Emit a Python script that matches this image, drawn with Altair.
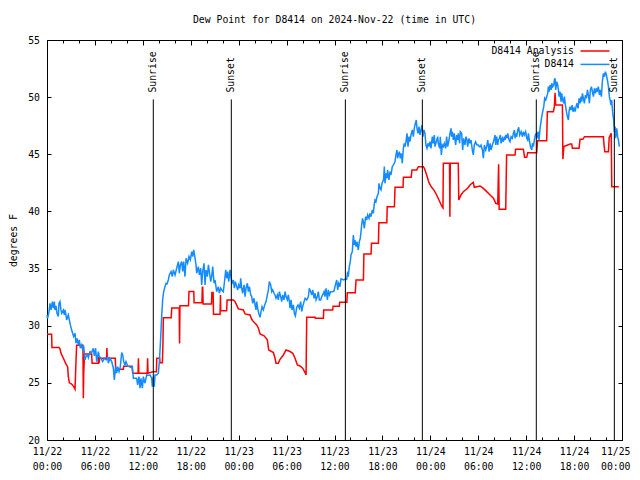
import altair as alt
import pandas as pd

title_text = "Dew Point for D8414 on 2024-Nov-22 (time in UTC)"
series_names = ["D8414 Analysis", "D8414"]
series_colors = ["#ff0000", "#148cff"]
y_ticks = [20, 25, 30, 35, 40, 45, 50, 55]
major_tick_hours = [0, 6, 12, 18, 24, 30, 36, 42, 48, 54, 60, 66, 72]
minor_tick_hours = [2, 4, 8, 10, 14, 16, 20, 22, 26, 28, 32, 34, 38, 40, 44, 46, 50, 52, 56, 58, 62, 64, 68, 70, 72]

# hours since 2024-11-22 00:00 UTC
analysis_hours = [
    0.0, 0.58, 0.62, 1.5, 1.63, 1.75, 2.05, 2.34, 2.59, 2.67, 2.8, 3.09, 3.34, 3.51, 3.59, 3.71,
    4.5, 4.55, 4.6, 4.7, 5.59, 5.65, 6.43, 6.47, 6.52, 6.6, 7.45, 7.5, 7.55, 8.55, 8.6, 9.56,
    9.6, 10.65, 10.73, 11.4, 11.45, 11.5, 12.55, 12.6, 12.65, 13.3, 13.7, 13.75, 14.1, 14.15,
    14.45, 14.52, 14.57, 15.55, 15.62, 16.55, 16.6, 16.65, 17.72, 17.78, 18.38, 18.42, 19.4,
    19.45, 19.5, 19.55, 20.6, 20.65, 20.8, 20.85, 21.67, 21.72, 21.76, 22.5, 22.55, 23.34,
    23.55, 23.96, 24.59, 24.8, 25.42, 25.63, 25.84, 26.26, 26.47, 26.68, 27.18, 27.59, 27.76,
    28.35, 28.55, 28.68, 28.97, 29.18, 29.6, 29.93, 30.43, 30.77, 31.06, 31.35, 31.68, 32.02,
    32.31, 32.44, 32.52, 33.56, 33.6, 34.61, 34.65, 35.78, 35.82, 36.6, 36.65, 37.55, 37.6,
    38.6, 38.7, 39.62, 39.68, 40.58, 40.63, 41.5, 41.56, 42.55, 42.6, 43.5, 43.58, 44.58,
    44.63, 45.6, 45.7, 46.3, 46.5, 47.12, 47.25, 47.54, 47.83, 48.16, 48.5, 48.79, 49.08,
    49.42, 49.58, 49.63, 50.4, 50.45, 50.5, 51.5, 51.56, 51.84, 52.13, 52.67, 52.96, 53.38,
    53.5, 54.23, 54.64, 55.06, 55.48, 55.9, 56.19, 56.44, 56.55, 56.62, 57.44, 57.55, 58.61,
    58.67, 59.65, 59.8, 60.07, 60.2, 61.32, 61.42, 62.57, 62.65, 63.41, 63.53, 63.62, 63.7,
    64.54, 64.6, 64.72, 65.5, 65.7, 65.79, 66.62, 66.75, 67.1, 67.3, 69.67, 69.75, 69.85,
    70.3, 70.4, 70.65, 70.72, 71.6,
]
analysis_values = [
    29.25, 29.25, 28.09, 28.09, 27.97, 27.6, 27.15, 26.7, 26.4, 25.55, 25.0, 24.9, 24.67, 24.45, 26.1, 28.3,
    28.3, 23.65, 25.9, 27.53, 27.53, 26.72, 26.72, 27.3, 26.72, 27.15, 27.15, 28.05, 27.15, 27.15, 26.19, 26.19,
    26.45, 26.45, 25.84, 25.84, 27.15, 25.84, 25.84, 27.15, 25.84, 25.98, 25.98, 27.15, 27.15, 26.77,
    26.77, 28.5, 30.7, 30.7, 31.55, 31.55, 28.45, 31.75, 31.75, 33.0, 33.0, 32.02, 32.02,
    33.36, 33.36, 31.91, 31.91, 32.9, 32.9, 31.0, 31.0, 32.69, 31.32, 31.32, 32.26, 32.26,
    32.11, 31.47, 31.38, 31.03, 30.94, 30.56, 30.36, 30.07, 29.78, 29.28, 29.11, 28.76, 27.88,
    27.65, 27.15, 26.72, 26.72, 27.06, 27.44, 27.88, 27.74, 27.59, 27.15, 26.57, 26.48, 26.28,
    25.9, 25.69, 30.74, 30.74, 30.65, 30.65, 31.38, 31.38, 31.7, 31.7, 32.05, 32.05, 32.89,
    32.89, 34.0, 34.0, 36.28, 36.28, 37.21, 37.21, 39.02, 39.02, 40.42, 40.42, 42.11, 42.11,
    42.98, 42.98, 43.63, 43.63, 43.92, 43.92, 43.77, 43.19, 42.52, 42.11, 41.82, 41.44, 41.0,
    40.48, 40.3, 44.21, 44.21, 39.54, 44.21, 44.21, 41.0, 41.44, 41.73, 42.02, 42.31, 42.55,
    42.11, 42.23, 42.02, 41.73, 41.44, 41.15, 40.71, 40.65, 44.12, 40.18, 40.18, 44.94, 44.94,
    45.43, 45.43, 44.73, 44.73, 45.14, 45.14, 46.19, 46.19, 48.73, 48.73, 49.17, 50.39, 49.31,
    49.31, 44.56, 45.67, 45.9, 45.9, 45.52, 45.52, 46.31, 46.31, 46.54, 46.54, 45.81, 45.23,
    45.23, 46.48, 46.83, 42.17, 42.17,
]

station_hours = [
    0.0, 0.08, 0.25, 0.38, 0.5, 0.67, 0.79, 0.92, 1.0, 1.13, 1.25, 1.42, 1.5, 1.63, 1.75, 1.84,
    2.05, 2.17, 2.25, 2.38, 2.46, 2.67, 2.8, 2.92, 3.09, 3.21, 3.34, 3.51, 3.63, 3.76, 3.92, 4.05,
    4.17, 4.34, 4.47, 4.59, 4.76, 4.88, 5.09, 5.18, 5.38, 5.59, 5.8, 5.93, 6.09, 6.22, 6.43, 6.55,
    6.76, 6.97, 7.18, 7.39, 7.6, 7.68, 7.89, 8.1, 8.31, 8.43, 8.6, 8.72, 8.85, 9.02, 9.18, 9.35,
    9.48, 9.6, 9.77, 9.89, 10.1, 10.27, 10.52, 10.69, 10.81, 11.02, 11.23, 11.35, 11.52, 11.65,
    11.77, 11.94, 12.06, 12.27, 12.48, 12.69, 12.9, 13.11, 13.19, 13.32, 13.44, 13.52, 13.73,
    13.94, 14.07, 14.19, 14.36, 14.48, 14.61, 14.78, 14.9, 15.03, 15.19, 15.32, 15.53, 15.69,
    15.82, 16.03, 16.24, 16.45, 16.57, 16.7, 16.86, 16.99, 17.11, 17.28, 17.41, 17.61, 17.78,
    17.95, 18.12, 18.24, 18.37,
    18.54, 18.66, 18.74, 18.95, 19.08, 19.25, 19.37, 19.5, 19.66, 19.79, 19.91, 20.08, 20.21,
    20.33, 20.5, 20.62, 20.75, 20.92, 21.04, 21.25, 21.46, 21.58, 21.75, 21.88, 22.08, 22.25,
    22.38, 22.5, 22.63, 22.75, 22.92, 23.04, 23.17, 23.34, 23.46, 23.59, 23.75, 23.88, 24.0,
    24.17, 24.25, 24.38, 24.5, 24.67, 24.8, 24.92, 25.09, 25.21, 25.34, 25.51, 25.63, 25.76,
    25.92, 26.05, 26.17, 26.26, 26.38, 26.51, 26.68, 26.8, 26.93, 27.09, 27.26, 27.43, 27.59,
    27.72, 27.84, 28.01, 28.14, 28.26, 28.43, 28.55, 28.68, 28.85, 28.97, 29.1, 29.26, 29.39,
    29.51, 29.68, 29.81, 29.93, 30.1, 30.22, 30.35, 30.43, 30.56, 30.68, 30.85, 30.97, 31.1,
    31.27, 31.43, 31.6, 31.77, 31.89, 32.02, 32.19, 32.31, 32.52, 32.73, 32.85, 33.02, 33.15,
    33.27, 33.44, 33.56, 33.69, 33.85, 33.98, 34.1, 34.27, 34.4, 34.52, 34.69, 34.81, 34.94,
    35.11, 35.23, 35.36, 35.52, 35.65, 35.77, 35.94, 36.11, 36.28, 36.4, 36.53,
    36.69, 36.81, 36.98, 37.1, 37.31, 37.52, 37.65, 37.73, 37.85, 37.98, 38.06, 38.23, 38.36,
    38.48, 38.56, 38.69, 38.81, 38.98, 39.11, 39.23, 39.4, 39.52, 39.65, 39.73, 39.9, 40.03,
    40.15, 40.32, 40.44, 40.57, 40.73, 40.86, 40.99, 41.07, 41.19, 41.32, 41.49, 41.57, 41.7,
    41.82, 41.95, 42.03, 42.15, 42.24, 42.32, 42.45, 42.57, 42.65, 42.82, 42.95, 43.07, 43.24,
    43.36, 43.57, 43.7, 43.82, 43.91, 43.99, 44.12, 44.24, 44.37, 44.49, 44.62, 44.74, 44.83,
    44.95, 45.08, 45.2, 45.33, 45.45, 45.58, 45.74, 45.87, 45.99, 46.12, 46.24, 46.33, 46.45,
    46.58, 46.7, 46.83, 46.95, 47.08, 47.2, 47.33, 47.45, 47.58, 47.71, 47.83, 47.96, 48.08,
    48.25, 48.37, 48.5, 48.58, 48.75, 48.92, 49.0, 49.17, 49.25, 49.38, 49.5, 49.63, 49.75,
    49.92, 50.04, 50.17, 50.34, 50.46, 50.59, 50.67, 50.75, 50.88, 51.0, 51.17, 51.3, 51.42,
    51.5, 51.67, 51.75, 51.92, 52.05, 52.17, 52.34, 52.46, 52.59, 52.67, 52.84, 52.96, 53.09,
    53.26, 53.38, 53.51, 53.67, 53.84, 54.01, 54.13,
    54.23, 54.35, 54.52, 54.64, 54.77, 54.94, 55.06, 55.19, 55.35, 55.48, 55.6, 55.77, 55.9,
    56.02, 56.1, 56.19, 56.31, 56.44, 56.52, 56.65, 56.77, 56.86, 57.02, 57.15, 57.27, 57.36,
    57.44, 57.57, 57.69, 57.86, 57.98, 58.11, 58.27, 58.4, 58.53, 58.61, 58.69, 58.82, 58.94,
    59.07, 59.19, 59.36, 59.53, 59.65, 59.78, 59.94, 60.07, 60.19, 60.28, 60.4, 60.53, 60.7,
    60.78, 60.9, 61.03, 61.15, 61.28, 61.36, 61.49, 61.61, 61.74, 61.86, 61.95, 62.07, 62.2,
    62.32, 62.45, 62.57, 62.7, 62.78, 62.87, 62.99, 63.12, 63.2, 63.33, 63.45, 63.53, 63.62,
    63.7, 63.83, 63.95, 64.04, 64.12, 64.24, 64.37, 64.45, 64.58, 64.7, 64.79, 64.91, 65.04,
    65.16, 65.29, 65.37, 65.5, 65.62, 65.75, 65.87, 66.0, 66.12, 66.25, 66.37, 66.5, 66.62,
    66.75, 66.87, 66.96, 67.04, 67.17, 67.29, 67.42, 67.54, 67.67, 67.79, 67.92, 68.04, 68.17,
    68.29, 68.42, 68.54, 68.67, 68.79, 68.92, 69.04, 69.17, 69.29, 69.42, 69.54, 69.67, 69.8,
    69.92, 70.05, 70.17, 70.3, 70.42, 70.55, 70.63, 70.71, 70.84, 70.96, 71.05, 71.13, 71.21,
    71.34, 71.46, 71.55, 71.67,
]
station_values = [
    30.94, 30.65, 31.24, 31.96, 31.38, 32.1, 31.53, 32.11, 31.38, 31.73, 31.09, 30.8, 31.96, 32.11, 31.38, 31.09,
    31.38, 30.94, 31.38, 30.94, 30.5, 30.94, 30.5, 30.07, 29.63, 29.34, 29.05, 29.34, 28.47, 28.9, 28.32, 28.76,
    28.03, 28.32, 27.88, 28.23, 27.01, 27.3, 27.44, 27.21, 27.74, 27.65, 28.03, 27.36, 28.03, 26.86, 27.74, 27.3,
    27.15, 26.86, 27.15, 27.01, 27.24, 26.72, 27.15, 26.86, 26.28, 25.26, 26.42, 25.84, 26.42, 25.99, 26.42, 27.65,
    27.44, 26.86, 26.57, 26.86, 26.48, 26.42, 26.36, 26.42, 25.4, 25.4, 25.4, 24.82, 25.55, 24.53,
    25.4, 24.53, 25.55, 24.97, 25.69, 25.64, 25.69, 25.4, 24.67, 25.55, 24.67, 25.69, 25.69,
    25.84, 26.86, 28.32, 30.8, 32.26, 32.98, 33.42, 33.71, 33.66, 34.0, 34.44, 34.74, 34.3,
    34.88, 34.44, 35.03, 35.61, 34.59, 35.32, 35.61, 34.74, 35.61, 34.3, 35.9, 35.46, 36.05,
    35.76, 36.48, 36.05, 36.63,
    35.9, 35.32, 34.59, 35.17, 34.44, 35.03, 33.57, 34.74, 35.46, 33.57, 34.88, 34.3, 35.32,
    34.74, 33.86, 34.3, 35.17, 33.71, 34.0, 32.98, 33.42, 32.84, 33.28, 33.13, 32.98, 34.0,
    34.88, 34.15, 34.74, 33.86, 34.88, 34.3, 33.71, 34.0, 33.28, 33.86, 33.42, 33.13, 33.57,
    33.28, 34.15, 33.28, 32.84, 33.57, 32.55, 33.28, 33.71, 32.98, 33.42, 32.69, 32.55, 31.96,
    32.4, 31.82, 31.38, 32.11, 31.53, 31.09, 30.74, 31.24, 31.67, 31.38, 31.82, 32.11, 32.69,
    33.13, 33.86, 33.57, 32.98, 33.13, 32.84, 32.69, 32.4, 32.69, 32.26, 32.98, 32.55, 32.11,
    32.69, 32.26, 32.98, 32.55, 32.26, 32.69, 32.11, 31.53, 32.26, 31.38, 31.82, 31.09, 30.86,
    31.61, 31.82, 31.53, 32.11, 31.24, 31.67, 32.11, 32.4, 32.26, 32.55, 33.28, 32.98, 32.69,
    33.13, 32.4, 32.84, 32.26, 32.55, 32.98, 32.26, 32.26, 32.55, 32.69, 32.98, 32.55, 33.28,
    32.26, 33.13, 32.69, 32.98, 32.98, 32.98, 33.04, 33.57, 34.0, 33.13, 33.71,
    33.42, 34.09, 34.06, 34.0, 34.06, 34.06, 34.73, 34.29, 35.17, 35.61, 36.19, 36.48, 37.94,
    37.06, 37.5, 36.92, 37.36, 36.63, 37.36, 37.65, 38.81, 39.4, 38.96, 38.52, 39.54, 39.25,
    39.69, 39.4, 39.83, 39.54, 40.13, 39.83, 40.71, 41.0, 40.86, 41.29, 41.58, 42.46, 42.02,
    41.88, 42.46, 42.6, 42.81, 43.92, 42.46, 43.33, 42.9, 43.63, 42.75, 43.48, 43.19, 43.92,
    44.06, 44.35, 44.94, 45.38, 44.65, 44.94, 45.23, 44.65, 45.08, 44.21, 45.52, 45.96, 45.67,
    46.1, 46.83, 45.67, 46.54, 46.1, 46.69, 47.13, 46.54, 47.27, 47.71, 48.0, 47.27, 46.83,
    47.42, 46.69, 47.13, 47.56, 46.54, 47.13, 46.83, 45.81, 45.52, 45.96, 45.67, 46.1, 45.52,
    46.54, 45.96, 46.69, 45.67, 46.1, 46.54, 45.96, 45.52, 46.54, 44.94, 45.81, 45.67, 45.96,
    45.52, 46.54, 45.67, 46.25, 46.83, 47.27, 46.54, 46.98, 46.25, 46.83, 45.81, 46.69, 46.25,
    46.83, 45.96, 46.98, 46.83, 45.38, 46.4, 45.81, 46.54, 46.25, 45.67, 46.4, 45.96, 46.25,
    45.38, 44.94, 45.81, 46.1, 45.81, 45.81, 45.67,
    45.67, 45.81, 45.38, 44.65, 45.81, 45.38, 45.67, 46.25, 45.23, 45.96, 45.38, 45.81, 46.1,
    46.4, 46.69, 45.81, 46.54, 45.81, 46.25, 46.4, 46.69, 45.96, 46.4, 46.1, 46.54, 46.25,
    46.69, 46.4, 46.83, 46.25, 46.1, 46.54, 46.4, 46.83, 47.13, 46.4, 46.83, 46.54, 47.13,
    47.36, 46.69, 46.98, 46.54, 46.98, 46.69, 46.98, 46.4, 46.25, 46.83, 46.25, 45.67, 45.38,
    45.96, 45.67, 46.25, 46.69, 46.83, 46.4, 46.98, 46.25, 47.27, 47.85, 48.29, 48.73, 49.17,
    49.9, 49.75, 50.04, 50.33, 50.92, 50.48, 51.06, 50.63, 51.21, 50.92, 51.06, 51.5, 51.65,
    50.63, 51.36, 51.06, 50.63, 50.04, 50.48, 49.6, 50.33, 49.75, 49.46, 50.04, 49.31, 48.73,
    48.29, 48.0, 48.73, 49.17, 48.87, 49.31, 48.73, 49.02, 48.73, 49.17, 49.46, 49.02, 49.9,
    49.46, 50.04, 49.6, 50.33, 49.9, 49.46, 50.19, 49.9, 50.63, 50.19, 49.46, 50.63, 50.92,
    50.48, 50.04, 50.77, 50.33, 50.77, 50.48, 50.92, 50.19, 50.63, 50.04, 51.36, 52.08, 51.79,
    52.23, 51.94, 51.5, 50.92, 50.04, 49.6, 49.31, 49.75, 48.58, 48.0, 46.98, 47.42, 46.4,
    47.27, 46.54, 46.25, 45.67,
]

sun_hours = [13.31, 23.08, 37.36, 47.0, 61.27, 71.04]
sun_labels = ["Sunrise", "Sunset", "Sunrise", "Sunset", "Sunrise", "Sunset"]

FONT = "DejaVu Sans Mono"
FS = 9.8
base = pd.Timestamp("2024-11-22", tz="UTC")


def iso(hours):
    return [(base + pd.Timedelta(hours=h)).strftime("%Y-%m-%dT%H:%M:%SZ") for h in hours]


def ms(hours):
    return [int((base + pd.Timedelta(hours=h)).timestamp() * 1000) for h in hours]


END_MS = ms([72])[0]
LABEL2 = "[utcFormat(datum.value, '%m/%d'), utcFormat(datum.value, '%H:%M')]"

red_df = pd.DataFrame({"t": iso(analysis_hours), "v": analysis_values, "series": series_names[0]})
blue_df = pd.DataFrame({"t": iso(station_hours), "v": station_values, "series": series_names[1]})
sun_df = pd.DataFrame({"t": iso(sun_hours), "label": sun_labels})

x_scale = alt.Scale(type="utc", domain=ms([0, 72]))
y_scale = alt.Scale(domain=[20, 55], nice=False, zero=False)
color_scale = alt.Scale(domain=series_names, range=series_colors)

common = dict(domain=False, grid=False, tickColor="black", tickWidth=1,
              labelFont=FONT, labelFontSize=FS, labelColor="black",
              titleFont=FONT, titleFontSize=FS, titleFontWeight="normal", titleColor="black")

x_bottom_major = alt.Axis(orient="bottom", values=ms(major_tick_hours), tickSize=5, offset=-5,
                          labelPadding=6, labelFlush=False, labelOverlap=False, labelLineHeight=15,
                          labelExpr=f"datum.value >= {END_MS} ? '' : {LABEL2}",
                          title=None, **common)
x_top_major = alt.Axis(orient="top", values=ms(major_tick_hours), tickSize=5, offset=-5,
                       labels=False, title=None, **common)
x_bottom_minor = alt.Axis(orient="bottom", values=ms(minor_tick_hours), tickSize=3, offset=-3,
                          labelPadding=6, labelFlush=True, labelFlushOffset=8, labelOverlap=False,
                          labelLineHeight=15,
                          labelExpr=f"datum.value >= {END_MS} ? {LABEL2} : ''",
                          title=None, **common)
x_top_minor = alt.Axis(orient="top", values=ms(minor_tick_hours), tickSize=3, offset=-3,
                       labels=False, title=None, **common)
y_left = alt.Axis(orient="left", values=y_ticks, tickSize=4, offset=-4, labelPadding=7.5,
                  title="degrees F", titlePadding=9, **common)
y_right = alt.Axis(orient="right", values=y_ticks, tickSize=4, offset=-4, labels=False,
                   title=None, **common)

legend = alt.Legend(title=None, orient="none", legendX=542, legendY=5, direction="vertical",
                    symbolType="M-2.9,0H2.9", symbolSize=100, symbolStrokeWidth=1.5,
                    labelAlign="right", labelOffset={"expr": "-27"}, labelFont=FONT, labelFontSize=FS,
                    labelColor="black", padding=0, rowPadding=2.4)

red = alt.Chart(red_df).mark_line(strokeWidth=1.5).encode(
    x=alt.X("t:T", scale=x_scale, axis=x_bottom_major),
    y=alt.Y("v:Q", scale=y_scale, axis=y_left),
    color=alt.Color("series:N", scale=color_scale, legend=legend),
)
blue = alt.Chart(blue_df).mark_line(strokeWidth=1.5).encode(
    x=alt.X("t:T", scale=x_scale, axis=x_top_major),
    y=alt.Y("v:Q", scale=y_scale, axis=y_right),
    color=alt.Color("series:N", scale=color_scale, legend=legend),
)
rules = alt.Chart(sun_df).mark_rule(color="black", strokeWidth=1).encode(
    x=alt.X("t:T", scale=x_scale, axis=x_bottom_minor),
    y=alt.YDatum(20, type="quantitative", axis=None),
    y2=alt.Y2Datum(49.8),
)
labels = alt.Chart(sun_df).mark_text(angle=270, align="left", baseline="middle",
                                     font=FONT, fontSize=FS, color="black").encode(
    x=alt.X("t:T", scale=x_scale, axis=x_top_minor),
    y=alt.YDatum(50.4, type="quantitative", axis=None),
    text="label:N",
)

chart = alt.layer(red, blue, rules, labels).resolve_axis(
    x="independent", y="independent"
).properties(
    width=575, height=400,
    title=alt.Title(title_text, font=FONT, fontSize=FS, fontWeight="normal", color="black",
                    anchor="middle", offset=10),
    autosize=alt.AutoSizeParams(type="none"),
    padding={"left": 39, "top": 32, "right": 10, "bottom": 31},
).configure_view(stroke="black", strokeWidth=1)

chart.save("out.html", embed_options={"renderer": "svg", "actions": False})
